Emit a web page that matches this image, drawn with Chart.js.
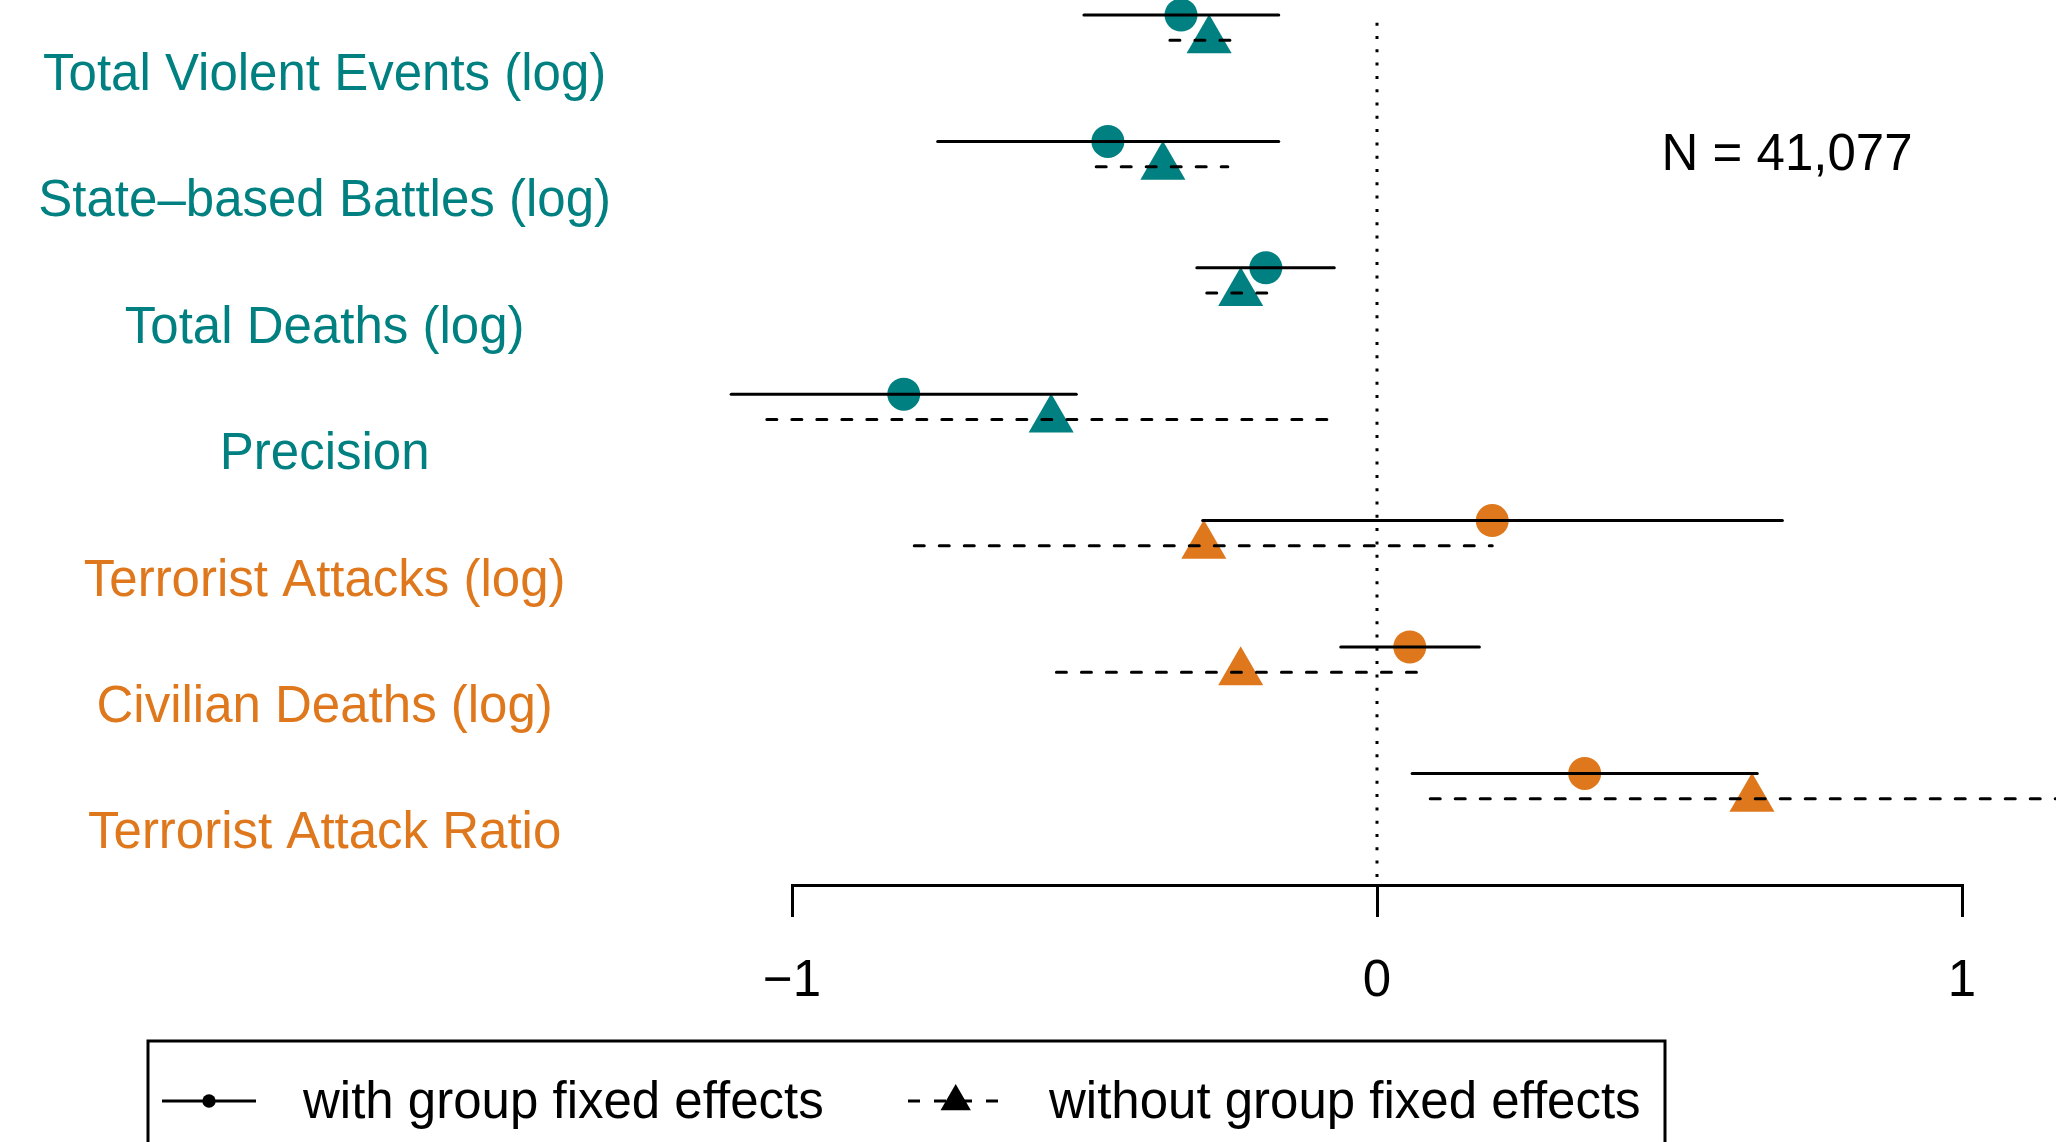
<!DOCTYPE html>
<html><head><meta charset="utf-8">
<script src="https://cdn.jsdelivr.net/npm/chart.js"></script>
<style>html,body{margin:0;padding:0;background:#fff;overflow:hidden}#wrap{width:2056px;height:1142px;position:relative;background:#fff}</style>
</head><body><div id="wrap"><canvas id="c" width="2056" height="1142"></canvas></div>
<script>
// ---- data ----
const outcomes = ['Total Violent Events (log)','State\u2013based Battles (log)','Total Deaths (log)','Precision','Terrorist Attacks (log)','Civilian Deaths (log)','Terrorist Attack Ratio'];
const outcomeGroup = ['state','state','state','state','terror','terror','terror'];
const feEst  = [-0.335,-0.460,-0.190,-0.809, 0.197, 0.056, 0.355];
const feLo   = [-0.501,-0.751,-0.308,-1.104,-0.298,-0.062, 0.060];
const feHi   = [-0.168,-0.168,-0.073,-0.514, 0.693, 0.175, 0.650];
const nofeEst= [-0.287,-0.366,-0.233,-0.557,-0.296,-0.233, 0.641];
const nofeLo = [-0.354,-0.480,-0.291,-1.043,-0.791,-0.548, 0.091];
const nofeHi = [-0.245,-0.255,-0.184,-0.072, 0.197, 0.083, 1.250];
const xTicks = [-1, 0, 1];
const xTickLabels = ['\u22121', '0', '1'];
const zeroLineY = [-0.39, 6.37];
const nLabel = 'N = 41,077';
const legendLabels = ['with group fixed effects', 'without group fixed effects'];

// ---- styles ----
const FONT = 'Liberation Sans, Arial, Helvetica, sans-serif';
const FS = 51;
const COL = {state: '#008080', terror: '#DF781D'};
const rowColor = outcomeGroup.map(g => COL[g]);
const FE_OFF = -0.451, NOFE_OFF = -0.251;

const datasets = [];
outcomes.forEach((o, i) => {
  datasets.push({type: 'scatter', order: 0, showLine: true, clip: false,
    data: [{x: feLo[i], y: i + FE_OFF}, {x: feHi[i], y: i + FE_OFF}],
    borderColor: '#000', borderWidth: 3, pointRadius: 0, borderCapStyle: 'round'});
  datasets.push({type: 'scatter', order: 0, showLine: true, clip: false,
    data: [{x: nofeLo[i], y: i + NOFE_OFF}, {x: nofeHi[i], y: i + NOFE_OFF}],
    borderColor: '#000', borderWidth: 3, pointRadius: 0, borderDash: [10, 15], borderCapStyle: 'round'});
});
datasets.push({type: 'scatter', order: 1, clip: false,
  data: feEst.map((v, i) => ({x: v, y: i + FE_OFF})),
  pointStyle: 'circle', pointRadius: 16.5, pointBackgroundColor: rowColor, pointBorderWidth: 0, pointHoverRadius: 16.5});
datasets.push({type: 'scatter', order: 1, clip: false,
  data: nofeEst.map((v, i) => ({x: v, y: i + NOFE_OFF})),
  pointStyle: 'triangle', pointRadius: 26, pointBackgroundColor: rowColor, pointBorderWidth: 0, pointHoverRadius: 26});
datasets.push({type: 'scatter', order: 2, showLine: true, clip: false,
  data: zeroLineY.map(y => ({x: 0, y})),
  borderColor: '#000', borderWidth: 3, pointRadius: 0, borderDash: [3, 10.3]});

const extras = {
  id: 'extras',
  afterDraw(chart) {
    const ctx = chart.ctx, xs = chart.scales.x, ys = chart.scales.y;
    ctx.save();
    ctx.fillStyle = '#000';
    ctx.font = FS + 'px ' + FONT;
    ctx.textAlign = 'center';
    ctx.textBaseline = 'middle';
    ctx.fillText(nLabel, xs.getPixelForValue(0.701), ys.getPixelForValue(0.665));
    // legend box
    ctx.strokeStyle = '#000';
    ctx.lineWidth = 3;
    ctx.beginPath();
    ctx.moveTo(148, 1150); ctx.lineTo(148, 1041); ctx.lineTo(1665, 1041); ctx.lineTo(1665, 1150);
    ctx.stroke();
    const ly = 1101;
    ctx.beginPath(); ctx.moveTo(162, ly); ctx.lineTo(256, ly); ctx.stroke();
    ctx.beginPath(); ctx.arc(209, ly, 6.7, 0, Math.PI * 2); ctx.fill();
    ctx.setLineDash([12, 14]);
    ctx.beginPath(); ctx.moveTo(908, ly); ctx.lineTo(998, ly); ctx.stroke();
    ctx.setLineDash([]);
    const tr = 17.5, tx = 955.7, ty = ly + 0.5;
    ctx.beginPath();
    ctx.moveTo(tx, ty - tr);
    ctx.lineTo(tx + tr * Math.sin(2 * Math.PI / 3), ty + tr / 2);
    ctx.lineTo(tx - tr * Math.sin(2 * Math.PI / 3), ty + tr / 2);
    ctx.closePath(); ctx.fill();
    ctx.textAlign = 'left';
    ctx.fillText(legendLabels[0], 303, ly + 3);
    ctx.fillText(legendLabels[1], 1049, ly + 3);
    ctx.restore();
  }
};

new Chart(document.getElementById('c'), {
  type: 'scatter',
  data: {datasets},
  plugins: [extras],
  options: {
    responsive: false, animation: false, devicePixelRatio: 1,
    layout: {autoPadding: false, padding: {left: 0, right: 94, top: 0, bottom: 0}},
    plugins: {legend: {display: false}, tooltip: {enabled: false}},
    events: [],
    scales: {
      x: {type: 'linear', min: -1, max: 1, position: 'bottom',
        afterBuildTicks: s => { s.ticks = xTicks.map(v => ({value: v})); },
        afterFit: s => { s.height = 257; s.paddingLeft = 0; s.paddingRight = 0; },
        ticks: {callback: (v, i) => xTickLabels[i], font: {family: FONT, size: FS}, color: '#000', padding: 34, maxRotation: 0, autoSkip: false},
        grid: {display: true, drawOnChartArea: false, drawTicks: true, tickLength: 32, tickWidth: 3, tickColor: '#000', lineWidth: 3, color: '#000'},
        border: {display: true, color: '#000', width: 3}
      },
      y: {type: 'linear', reverse: true, min: -0.5696, max: 6.432, position: 'left',
        afterBuildTicks: s => { s.ticks = outcomes.map((_, i) => ({value: i})); },
        afterFit: s => { s.width = 792; s.paddingTop = 0; s.paddingBottom = 0; },
        ticks: {callback: (v, i) => outcomes[i], color: c => rowColor[c.index], font: {family: FONT, size: FS}, crossAlign: 'center', padding: 173, labelOffset: 4, autoSkip: false},
        grid: {display: false}, border: {display: false}
      }
    }
  }
});
</script></body></html>
